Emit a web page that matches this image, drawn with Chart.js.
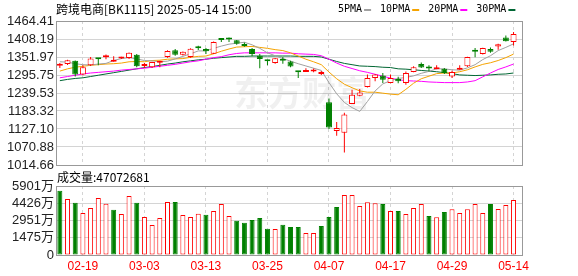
<!DOCTYPE html>
<html lang="zh-CN">
<head>
<meta charset="UTF-8">
<title>跨境电商[BK1115] 日K</title>
<script src="https://cdn.jsdelivr.net/npm/chart.js"></script>
<style>
  body { margin: 0; background: #fff; }
  .wrap { position: relative; width: 578px; height: 276px; }
  #kline { position: absolute; left: 0; top: 0; }
  #vol { position: absolute; left: 0; top: 170px; }
</style>
</head>
<body>
<div class="wrap">
  <canvas id="kline" width="578" height="170"></canvas>
  <canvas id="vol" width="578" height="106"></canvas>
</div>

<script>
// trading days shown (2025-02-14 .. 2025-05-14)
const dates = [
  '02-14','02-17','02-18','02-19','02-20','02-21','02-24','02-25','02-26','02-27','02-28',
  '03-03','03-04','03-05','03-06','03-07','03-10','03-11','03-12','03-13','03-14','03-17',
  '03-18','03-19','03-20','03-21','03-24','03-25','03-26','03-27','03-28','03-31',
  '04-01','04-02','04-03','04-07','04-08','04-09','04-10','04-11','04-14','04-15','04-16',
  '04-17','04-18','04-21','04-22','04-23','04-24','04-25','04-28','04-29','04-30',
  '05-06','05-07','05-08','05-09','05-12','05-13','05-14'
];

const open = [1325,1330,1340,1297,1326,1349,1351,1337,1347,1349,1359,1324,1320,1334,1352,1373,1359,1352,1381,1377,
  1362,1407,1409,1404,1392,1377,1356,1341,1333,1342,1338,1307,1305,1307,1299,1211,1121,1115,1205,1231,
  1258,1286,1294,1271,1283,1271,1305,1330,1318,1314,1315,1291,1312,1323,1371,1361,1377,1385,1413,1399];
const close = [1327,1342,1297,1320,1347,1345,1353,1339,1350,1365,1323,1327,1336,1336,1371,1359,1368,1378,1379,1370,
  1399,1405,1407,1393,1386,1361,1346,1339,1348,1340,1322,1304,1307,1312,1304,1132,1130,1172,1234,1241,
  1286,1297,1281,1286,1276,1302,1320,1319,1316,1316,1302,1305,1314,1352,1368,1380,1368,1392,1401,1424];
const high = [1333,1343,1341,1326,1352,1349,1360,1354,1353,1366,1361,1333,1337,1340,1373,1377,1369,1379,1387,1380,
  1400,1411,1413,1405,1397,1380,1361,1343,1349,1352,1340,1307,1317,1316,1308,1222,1149,1178,1250,1252,
  1297,1299,1302,1297,1290,1307,1323,1335,1326,1326,1318,1309,1326,1353,1380,1381,1382,1393,1419,1430];
const low = [1318,1327,1291,1295,1324,1326,1345,1337,1346,1346,1320,1318,1318,1320,1350,1356,1357,1350,1374,1361,
  1361,1399,1399,1390,1384,1354,1317,1326,1331,1331,1320,1286,1305,1304,1296,1127,1106,1054,1205,1229,
  1257,1276,1271,1270,1270,1265,1304,1318,1307,1314,1299,1286,1312,1321,1351,1360,1365,1375,1400,1388];

const ma5 = [1337,1336,1331,1328,1327,1330,1332,1341,1347,1350,1346,1341,1340,1337,1339,1346,1354,1362,1371,1371,
  1379,1386,1392,1395,1398,1390,1379,1365,1356,1347,1339,1331,1324,1317,1310,1272,1237,1210,1194,1182,
  1213,1246,1268,1278,1285,1288,1293,1301,1307,1315,1315,1312,1311,1318,1328,1344,1356,1372,1382,1393];
const ma10 = [1308,1315,1320,1323,1326,1328,1330,1331,1333,1337,1338,1337,1341,1342,1345,1346,1347,1351,1354,1355,
  1362,1370,1377,1383,1384,1385,1382,1379,1375,1372,1365,1355,1345,1337,1328,1305,1284,1267,1256,1246,
  1242,1242,1239,1236,1234,1251,1270,1284,1292,1300,1302,1302,1306,1312,1321,1329,1334,1341,1350,1361];
const ma20 = [1287,1291,1295,1299,1302,1304,1306,1308,1311,1313,1315,1317,1320,1323,1326,1329,1333,1337,1340,1345,
  1350,1353,1359,1363,1365,1365,1365,1365,1365,1364,1364,1362,1361,1360,1356,1345,1333,1323,1316,1309,
  1304,1298,1292,1286,1281,1278,1277,1276,1274,1273,1272,1272,1272,1274,1278,1290,1302,1313,1321,1330];
const ma30 = [1278,1282,1285,1287,1291,1295,1299,1303,1307,1311,1315,1319,1322,1326,1330,1333,1337,1340,1343,1345,
  1348,1350,1352,1354,1354,1355,1355,1355,1355,1355,1355,1354,1354,1354,1352,1345,1338,1332,1328,1324,
  1323,1322,1320,1319,1315,1314,1312,1310,1308,1306,1303,1300,1296,1295,1294,1295,1296,1298,1299,1302];

// volume in 万 (10k); 1 = red (up), 0 = green
const volume = [5497,4788,4473,3591,4018,4873,4386,3873,3505,5044,4473,3249,2565,3163,4531,4531,3420,3249,3531,3445,
  3762,4360,3334,2932,2761,2992,3163,2248,2223,2590,2394,2394,1881,1881,2480,3249,4104,5130,5130,4190,
  4504,4418,4360,3762,3762,3505,4018,4360,3334,3220,3676,3904,3591,3904,4360,3591,4360,3933,4275,4707];
const volumeUp = [0,1,0,1,1,1,1,0,1,1, 0,1,1,1,1,0,1,1,1,0, 1,1,1,0,0,0,0,0,1,0,
  0,0,1,1,0,0,0,1,1,1, 1,1,0,1,0,1,1,1,0,1, 0,1,1,1,1,1,0,1,1,1];

const dateTicks = ['02-19','03-03','03-13','03-25','04-07','04-17','04-29','05-14'];
const priceTicks = ['1464.41','1408.19','1351.97','1295.75','1239.53','1183.32','1127.10','1070.88','1014.66'];
const volumeTicks = ['0','1475万','2951万','4426万','5901万'];
const maNames = ['5PMA','10PMA','20PMA','30PMA'];
const title = '跨境电商[BK1115] 2025-05-14 15:00';
const lastVolume = '47072681';

const RED = '#ff0000', GREEN = '#008000';
const MA_COLORS = ['#a0a0a0', '#f5a300', '#ff00ff', '#006633'];
const GRID = '#d4d4d4', FRAME = '#999999';

Chart.defaults.font.family = "'Liberation Sans', 'Noto Sans CJK SC', sans-serif";

const idx = dates.map((d, i) => i);
const tickIdx = dateTicks.map(d => dates.indexOf(d));
const up = close.map((c, i) => c >= open[i]);

const frame = {
  id: 'frame',
  afterDatasetsDraw(chart) {
    const { ctx, chartArea: a } = chart;
    ctx.save();
    ctx.strokeStyle = FRAME;
    ctx.lineWidth = 1;
    ctx.strokeRect(Math.round(a.left) + 0.5, Math.round(a.top) + 0.5,
      Math.round(a.right - a.left), Math.round(a.bottom - a.top));
    ctx.restore();
  }
};

const watermark = {
  id: 'watermark',
  beforeDatasetsDraw(chart) {
    const ctx = chart.ctx;
    ctx.save();
    ctx.font = "bold 34px 'Noto Sans CJK SC'";
    ctx.fillStyle = 'rgba(0,0,0,0.06)';
    ctx.textBaseline = 'middle';
    ctx.fillText('东方财富', 234, 93);
    ctx.restore();
  }
};

const header = {
  id: 'header',
  afterDraw(chart) {
    const ctx = chart.ctx;
    ctx.save();
    ctx.textBaseline = 'middle';
    ctx.fillStyle = '#000';
    ctx.font = "12px 'Noto Sans CJK SC'";
    ctx.fillText(title, 56, 9);
    ctx.font = "10px 'DejaVu Sans Mono'";
    let x = 338;
    maNames.forEach((name, k) => {
      ctx.fillStyle = '#000';
      ctx.fillText(name, x, 9);
      x += ctx.measureText(name).width + 2;
      ctx.fillStyle = MA_COLORS[k];
      ctx.fillRect(x, 9, 7, 2);
      x += 16;
    });
    ctx.restore();
  }
};

const volHeader = {
  id: 'volHeader',
  afterDraw(chart) {
    const ctx = chart.ctx;
    ctx.save();
    ctx.textBaseline = 'middle';
    ctx.fillStyle = '#000';
    ctx.font = "12px 'Noto Sans CJK SC'";
    ctx.fillText('成交量:' + lastVolume, 57, 7);
    ctx.restore();
  }
};

function xScale(showLabels) {
  return {
    type: 'linear',
    min: -0.5,
    max: 60.1,
    offset: false,
    afterBuildTicks: s => { s.ticks = tickIdx.map(v => ({ value: v })); },
    ticks: {
      display: showLabels, autoSkip: false, maxRotation: 0, padding: 4,
      color: RED, font: { size: 12 },
      callback: v => dates[v]
    },
    grid: { color: GRID, drawTicks: false, offset: false },
    border: { display: false, dash: [3, 3] },
    afterFit: s => { s.height = showLabels ? 21 : 0; s.paddingLeft = 0; s.paddingRight = 0; }
  };
}

function yScale(min, max, labels, fontSize) {
  return {
    min, max,
    beginAtZero: false,
    afterBuildTicks: s => { s.ticks = labels.map(t => ({ value: parseFloat(t) })); },
    ticks: {
      autoSkip: false, padding: 2, color: '#222', font: { size: fontSize },
      callback: (v, i) => labels[i]
    },
    grid: { color: GRID, drawTicks: false },
    border: { display: false },
    afterFit: s => { s.width = 56; s.paddingTop = 0; s.paddingBottom = 0; }
  };
}

function maLine(k, values) {
  return {
    type: 'line',
    label: maNames[k],
    data: idx.map(i => ({ x: i, y: values[i] })),
    borderColor: MA_COLORS[k],
    borderWidth: 1,
    pointRadius: 0,
    tension: 0,
    order: 2
  };
}

new Chart(document.getElementById('kline'), {
  type: 'bar',
  data: {
    datasets: [
      {
        label: 'K线',
        data: idx.map(i => ({ x: i, y: [open[i], close[i]] })),
        backgroundColor: up.map(u => u ? '#ffffff' : GREEN),
        borderColor: up.map(u => u ? RED : GREEN),
        borderWidth: 1,
        borderSkipped: false,
        inflateAmount: 0,
        barThickness: 6,
        minBarLength: 2,
        grouped: false,
        order: 0
      },
      {
        label: '影线',
        data: idx.map(i => ({ x: i, y: [low[i], high[i]] })),
        backgroundColor: up.map(u => u ? RED : GREEN),
        borderWidth: 0,
        inflateAmount: 0,
        barThickness: 1,
        grouped: false,
        order: 1
      },
      maLine(0, ma5), maLine(1, ma10), maLine(2, ma20), maLine(3, ma30)
    ]
  },
  options: {
    responsive: false,
    animation: false,
    layout: { padding: { top: 21, right: 56, bottom: 5, left: 0 } },
    plugins: { legend: { display: false }, tooltip: { enabled: false } },
    scales: {
      x: xScale(false),
      y: yScale(1014.66, 1464.41, priceTicks, 13)
    }
  },
  plugins: [watermark, frame, header]
});

new Chart(document.getElementById('vol'), {
  type: 'bar',
  data: {
    datasets: [{
      label: '成交量',
      data: idx.map(i => ({ x: i, y: volume[i] })),
      backgroundColor: volumeUp.map(u => u ? '#ffffff' : GREEN),
      borderColor: volumeUp.map(u => u ? RED : GREEN),
      borderWidth: 1,
      borderSkipped: false,
      inflateAmount: 0,
      barThickness: 5,
      grouped: false
    }]
  },
  options: {
    responsive: false,
    animation: false,
    layout: { padding: { top: 16, right: 56, bottom: 0, left: 0 } },
    plugins: { legend: { display: false }, tooltip: { enabled: false } },
    scales: {
      x: xScale(true),
      y: yScale(0, 5901, volumeTicks, 13)
    }
  },
  plugins: [frame, volHeader]
});
</script>
</body>
</html>
